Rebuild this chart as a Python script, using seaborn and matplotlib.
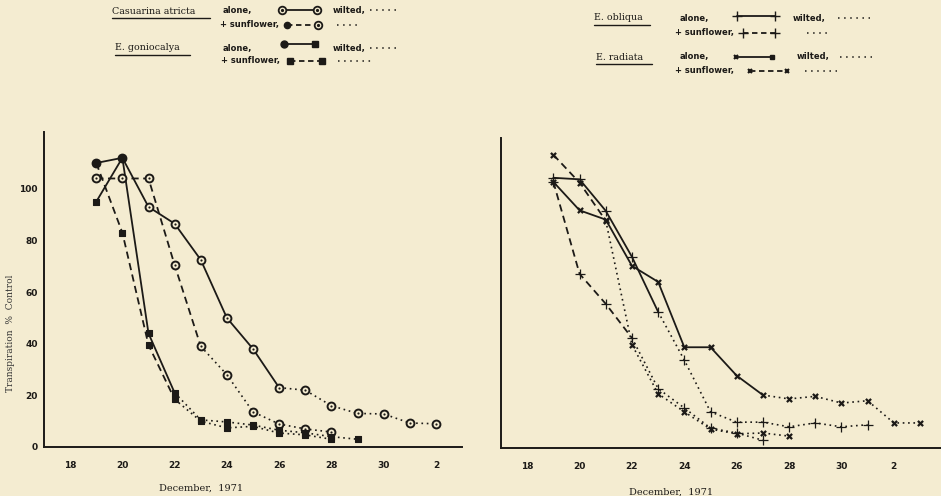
import numpy as np
import pandas as pd
import matplotlib
matplotlib.use("Agg")
import matplotlib.pyplot as plt
from matplotlib.lines import Line2D
import seaborn as sns

# ---- data: day index (Dec 18 = 18 ... Jan 2 = 32/33), transpiration % control
cas_alone_days = [19, 20, 21, 22, 23, 24, 25, 26, 27, 28, 29, 30, 31, 32]
cas_alone_vals = [110, 112, 93, 86.5, 72.5, 50, 38, 23, 22, 16, 13, 12.8, 9.3, 9]
cas_alone_wilt = 26

cas_sun_days = [19, 20, 21, 22, 23, 24, 25, 26, 27, 28]
cas_sun_vals = [104, 104, 104, 70.5, 39, 28, 13.6, 8.9, 7, 5.8]
cas_sun_wilt = 23

gon_alone_days = [19, 20, 21, 22, 23, 24, 25, 26, 27, 28, 29]
gon_alone_vals = [95, 112, 44, 21, 10.5, 9.7, 8.5, 6.5, 5.5, 4, 3]
gon_alone_wilt = 22

gon_sun_days = [19, 20, 21, 22, 23, 24, 25, 26, 27, 28]
gon_sun_vals = [110, 83, 39.5, 18.5, 10, 7.4, 8, 5.4, 4.7, 3]
gon_sun_wilt = 22

obl_alone_days = [19, 20, 21, 22, 23, 24, 25, 26, 27, 28, 29, 30, 31]
obl_alone_vals = [104.6, 104, 91.8, 74, 52.7, 34, 14, 10, 10, 8.2, 9.7, 8.2, 9]
obl_alone_wilt = 23

obl_sun_days = [19, 20, 21, 22, 23, 24, 25, 26, 27]
obl_sun_vals = [103, 67.4, 55.8, 42.6, 23, 15.5, 7.7, 5.8, 3]
obl_sun_wilt = 22

rad_alone_days = [19, 20, 21, 22, 23, 24, 25, 26, 27, 28, 29, 30, 31, 32, 33]
rad_alone_vals = [103, 92, 88.4, 70.5, 64.3, 39, 39, 28, 20.5, 19, 20, 17.4, 18.3, 9.7, 9.7]
rad_alone_wilt = 27

rad_sun_days = [19, 20, 21, 22, 23, 24, 25, 26, 27, 28]
rad_sun_vals = [113.5, 102.7, 88, 40, 21, 14, 7.3, 5.5, 5.8, 4.6]
rad_sun_wilt = 21

tick_days = [18, 20, 22, 24, 26, 28, 30, 32]
tick_labels = ["18", "20", "22", "24", "26", "28", "30", "2"]
y_ticks = [0, 20, 40, 60, 80, 100]

BG = "#f4ecd1"
INK = "#1c1a17"
DASH = (0, (4, 2.5))
DOT = (0, (1, 2.2))

sns.set_theme(style="white")
plt.rcParams["font.family"] = ["DejaVu Sans"]

W, H = 941, 496
fig = plt.figure(figsize=(W / 100, H / 100), dpi=100, facecolor=BG)


def fx(x):
    return x / W


def fy(y):
    return 1 - y / H


ax_l = fig.add_axes([fx(44), fy(447), fx(462 - 44), (447 - 132) / H])
ax_r = fig.add_axes([fx(501), fy(448), fx(941 - 501), (448 - 138) / H])


def draw_series(ax, days, vals, wilt, live_ls, marker, size, filled, lw_m, dot_center=False):
    df = pd.DataFrame({"day": days, "val": vals})
    live = df[df.day <= wilt]
    dead = df[df.day >= wilt]
    kw = dict(x="day", y="val", ax=ax, color=INK, estimator=None, sort=False, legend=False)
    sns.lineplot(data=live, linewidth=1.3, linestyle=live_ls, **kw)
    sns.lineplot(data=dead, linewidth=1.2, linestyle=DOT, **kw)
    if marker in ("+", "x"):
        sns.scatterplot(data=df, x="day", y="val", ax=ax, marker=marker, s=size,
                        color=INK, linewidth=lw_m, legend=False, zorder=4)
    else:
        sns.scatterplot(data=df, x="day", y="val", ax=ax, marker=marker, s=size,
                        facecolor=INK if filled else BG, edgecolor=INK,
                        linewidth=lw_m, legend=False, zorder=4)
    if dot_center:
        sns.scatterplot(data=df, x="day", y="val", ax=ax, marker="o", s=2.5,
                        color=INK, linewidth=0, legend=False, zorder=5)


# left panel: Casuarina and E. goniocalya
draw_series(ax_l, cas_alone_days, cas_alone_vals, cas_alone_wilt, "-", "o", 32, False, 1.4, True)
draw_series(ax_l, cas_sun_days, cas_sun_vals, cas_sun_wilt, DASH, "o", 32, False, 1.4, True)
draw_series(ax_l, gon_alone_days, gon_alone_vals, gon_alone_wilt, "-", "s", 20, True, 0.8)
draw_series(ax_l, gon_sun_days, gon_sun_vals, gon_sun_wilt, DASH, "s", 20, True, 0.8)

# right panel: E. obliqua and E. radiata
draw_series(ax_r, obl_alone_days, obl_alone_vals, obl_alone_wilt, "-", "+", 60, False, 0.9)
draw_series(ax_r, obl_sun_days, obl_sun_vals, obl_sun_wilt, DASH, "+", 60, False, 0.9)
draw_series(ax_r, rad_alone_days, rad_alone_vals, rad_alone_wilt, "-", "x", 14, False, 1.6)
draw_series(ax_r, rad_sun_days, rad_sun_vals, rad_sun_wilt, DASH, "x", 14, False, 1.6)

tick_font = dict(fontsize=6.5, fontweight="bold", color=INK)
for ax, xmax, ymax in ((ax_l, 33.0, 122), (ax_r, 33.8, 120)):
    ax.set_facecolor(BG)
    ax.set_xlim(17, xmax)
    ax.set_ylim(0, ymax)
    for side in ("top", "right"):
        ax.spines[side].set_visible(False)
    for side in ("left", "bottom"):
        ax.spines[side].set_color(INK)
        ax.spines[side].set_linewidth(1.4)
    ax.set_xticks(tick_days)
    ax.set_xticklabels(tick_labels, **tick_font)
    ax.tick_params(axis="x", direction="out", length=3, width=1, color=INK, pad=7)
    ax.tick_params(axis="y", direction="out", length=3, width=1, color=INK, pad=1.5)
    ax.set_xlabel("December,  1971", fontsize=7, family="DejaVu Serif", color=INK)
    ax.set_ylabel("")
    ax.grid(False)

ax_l.set_yticks(y_ticks)
ax_l.set_yticklabels([str(v) for v in y_ticks], **tick_font)
ax_r.set_yticks(y_ticks[1:])
ax_r.set_yticklabels([])
ax_l.xaxis.set_label_coords((201 - 44) / 418, (447 - 484) / 315)
ax_r.xaxis.set_label_coords((671 - 501) / 440, (448 - 488) / 310)
ax_l.set_ylabel("Transpiration  %  Control", fontsize=6.5, family="DejaVu Serif", color="#333")
ax_l.yaxis.set_label_coords((15 - 44) / 418, (447 - 333) / 315)

# ---- key at the top of the figure
sp = dict(fontsize=6.8, family="DejaVu Serif", color=INK, va="center")
lab = dict(fontsize=6, fontweight="bold", color=INK, va="center")


def key_line(x0, x1, y, ls, lm, rm):
    fig.add_artist(Line2D([fx(x0), fx(x1)], [fy(y), fy(y)], color=INK, lw=1.3, linestyle=ls))
    for x, m in ((x0, lm), (x1, rm)):
        kind, size = m
        if kind == "ring":
            fig.add_artist(Line2D([fx(x)], [fy(y)], marker="o", ms=5.5, mfc=BG, mec=INK, mew=1.3, lw=0))
            fig.add_artist(Line2D([fx(x)], [fy(y)], marker="o", ms=1.3, mfc=INK, mec=INK, lw=0))
        elif kind in ("+", "x"):
            fig.add_artist(Line2D([fx(x)], [fy(y)], marker=kind, ms=size, mec=INK, mew=1.0 if kind == "+" else 1.5, lw=0))
        else:
            fig.add_artist(Line2D([fx(x)], [fy(y)], marker=kind, ms=size, mfc=INK, mec=INK, lw=0))


def key_dots(x0, x1, y):
    fig.add_artist(Line2D([fx(x0), fx(x1)], [fy(y), fy(y)], color=INK, lw=1.1, linestyle=(0, (1, 3))))


def species(x, y, name, width):
    fig.text(fx(x), fy(y), name, **sp)
    fig.add_artist(Line2D([fx(x), fx(x + width)], [fy(y + 7), fy(y + 7)], color=INK, lw=1.0))


species(112, 11, "Casuarina atricta", 98)
fig.text(fx(223), fy(11), "alone,", **lab)
key_line(282, 317, 10, "-", ("ring", 0), ("ring", 0))
fig.text(fx(333), fy(11), "wilted,", **lab)
key_dots(370, 398, 10)
fig.text(fx(220), fy(25), "+ sunflower,", **lab)
key_line(287, 318, 25, (0, (3, 2)), ("o", 4.5), ("ring", 0))
key_dots(337, 358, 25)

species(115, 48, "E. goniocalya", 75)
fig.text(fx(223), fy(48), "alone,", **lab)
key_line(284, 315, 44, "-", ("o", 5), ("s", 4.5))
fig.text(fx(333), fy(48), "wilted,", **lab)
key_dots(370, 400, 48)
fig.text(fx(221), fy(61), "+ sunflower,", **lab)
key_line(290, 322, 61, (0, (3, 2)), ("s", 4.5), ("s", 4.5))
key_dots(338, 371, 61)

species(594, 18, "E. obliqua", 56)
fig.text(fx(680), fy(18), "alone,", **lab)
key_line(737, 775, 16, "-", ("+", 7.5), ("+", 7.5))
fig.text(fx(793), fy(18), "wilted,", **lab)
key_dots(838, 870, 18)
fig.text(fx(675), fy(33), "+ sunflower,", **lab)
key_line(743, 775, 33, (0, (3, 2)), ("+", 7.5), ("+", 7.5))
key_dots(807, 831, 33)

species(596, 57, "E. radiata", 56)
fig.text(fx(680), fy(57), "alone,", **lab)
key_line(736, 772, 57, "-", ("x", 3.5), ("s", 3.5))
fig.text(fx(797), fy(57), "wilted,", **lab)
key_dots(840, 872, 57)
fig.text(fx(675), fy(71), "+ sunflower,", **lab)
key_line(750, 787, 71, (0, (3, 2)), ("x", 3.5), ("x", 3.5))
key_dots(805, 837, 71)

fig.savefig("out.png", dpi=100, facecolor=BG)
